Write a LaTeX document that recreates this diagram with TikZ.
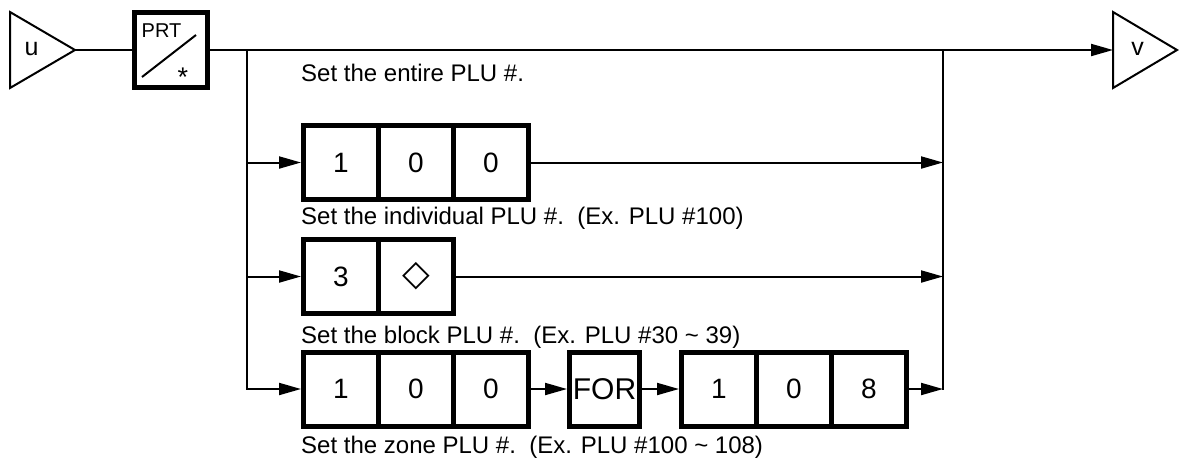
\documentclass[tikz,border=0pt]{standalone}
\usepackage{fontspec}
\setmainfont{Liberation Sans}
\newfontfamily\symfont{DejaVu Sans}
\usetikzlibrary{arrows.meta,positioning}

\tikzset{
  key/.style={draw, line width=5pt, minimum width=75pt, minimum height=74pt, inner sep=0pt, font=\fontsize{28}{28}\selectfont},
  flow/.style={line width=2pt},
  into/.style={flow, -{Triangle[length=22pt,width=12pt]}},
  note/.style={anchor=base west, inner sep=0pt, font=\fontsize{24}{26}\selectfont},
  term/.style={line width=2pt}
}

\begin{document}
\begin{tikzpicture}[x=1pt, y=-1pt]
  \useasboundingbox (0,0) rectangle (1180,459);

  % Terminals
  \draw[term] (10,12) -- (75,50) -- (10,88) -- cycle;
  \node[font=\fontsize{25}{25}\selectfont] (u) at (31.5,49.5) {u};
  \coordinate (uout) at (75,50);
  \draw[term] (1113,12) -- (1177,50) -- (1113,88) -- cycle;
  \node[font=\fontsize{25}{25}\selectfont] (v) at (1137.5,49) {v};
  \coordinate (vin) at (1113,50);

  % PRT key
  \node[key, minimum width=73pt, minimum height=75pt] (prt) at (171,50) {};
  \node[anchor=base west, inner sep=0pt, font=\fontsize{20}{20}\selectfont] (prtlbl) at (141.5,37) {PRT};
  \node[anchor=base, inner sep=0pt, font=\fontsize{27}{27}\selectfont] (star) at (183,86) {*};
  \draw[flow] (142,77) -- (196,35);

  % Split and join
  \coordinate (split) at (247,50);
  \coordinate (join) at (943,50);

  % Row 1
  \node[key] (a1) at (341,162.5) {1};
  \node[key, right of=a1, node distance=75pt] (a2) {0};
  \node[key, right of=a2, node distance=75pt] (a3) {0};

  % Row 2
  \node[key] (b1) at (341,276.5) {3};
  \node[key, right of=b1, node distance=75pt] (b2) {\symfont\fontsize{36}{36}\selectfont ◇};

  % Row 3
  \node[key] (c1) at (341,389) {1};
  \node[key, right of=c1, node distance=75pt] (c2) {0};
  \node[key, right of=c2, node distance=75pt] (c3) {0};
  \node[key, minimum width=70pt, font=\fontsize{30}{30}\selectfont, right of=c3, node distance=113.5pt] (cfor) {FOR};
  \node[key, right of=cfor, node distance=114.5pt] (d1) {1};
  \node[key, right of=d1, node distance=75pt] (d2) {0};
  \node[key, right of=d2, node distance=75pt] (d3) {8};

  % Notes
  \node[note] (n0) at (301,81) {Set the entire PLU \#.};
  \node[note] (n1) at (301,224) {Set the individual PLU \#.\ \ (Ex. PLU \#100)};
  \node[note] (n2) at (301,343) {Set the block PLU \#.\ \ (Ex. PLU \#30 \textasciitilde\ 39)};
  \node[note] (n3) at (301,453) {Set the zone PLU \#.\ \ (Ex. PLU \#100 \textasciitilde\ 108)};

  % Edges
  \draw[flow] (uout) -- (prt);
  \draw[into] (prt) -- (vin);
  \draw[into] (split) |- (c1);
  \draw[into] (split |- a1) -- (a1);
  \draw[into] (split |- b1) -- (b1);
  \draw[flow, line cap=rect] (join |- d3) -- (join);
  \draw[into] (a3) -- (a3 -| join);
  \draw[into] (b2) -- (b2 -| join);
  \draw[into] (c3) -- (cfor);
  \draw[into] (cfor) -- (d1);
  \draw[into] (d3) -- (d3 -| join);
\end{tikzpicture}
\end{document}
